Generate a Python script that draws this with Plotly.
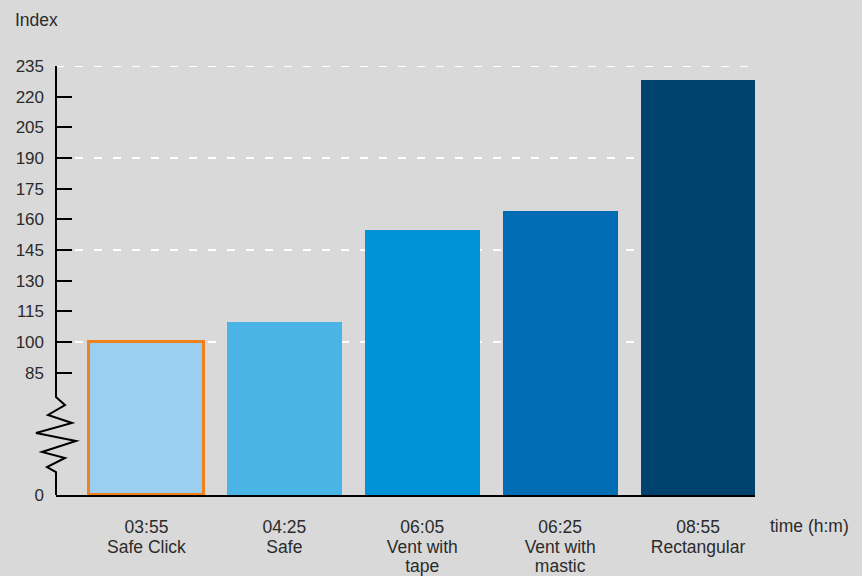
import plotly.graph_objects as go

# ---- data ----
times = ["03:55", "04:25", "06:05", "06:25", "08:55"]
names_line1 = ["Safe Click", "Safe", "Vent with", "Vent with", "Rectangular"]
names_line2 = ["", "", "tape", "mastic", ""]
values = [100, 110, 155, 164, 228]
bar_colors = ["#9BCFF1", "#4BB4E6", "#0092D7", "#006CB4", "#00426E"]
y_tick_values = [85, 100, 115, 130, 145, 160, 175, 190, 205, 220, 235]
grid_values = [100, 145, 190, 235]

# ---- broken axis: the real zero is drawn at display value Z ----
Z = 25.2
Y_MAX = 235

# plot area in pixels
W, H = 862, 576
L, R, T, B = 56, 107, 66, 81
PW, PH = W - L - R, H - T - B


def px(x):
    return (x - L) / PW


def py(y):
    return (H - B - y) / PH


font_color = "#2b2b2b"
font_family = "Liberation Sans, Arial, Helvetica, sans-serif"
clear = "rgba(0,0,0,0)"
X_RANGE = [-0.656, 4.413]
cats = list(range(len(values)))

fig = go.Figure()
fig.add_trace(go.Bar(
    x=cats,
    y=[v - Z for v in values],
    base=Z,
    width=0.834,
    marker=dict(
        color=bar_colors,
        line=dict(color=["#F0821E", clear, clear, clear, clear],
                  width=[3, 0, 0, 0, 0]),
    ),
    hoverinfo="skip",
))
# invisible helper traces so the extra label axes (name lines) are drawn
for ax in ["x2", "x3"]:
    fig.add_trace(go.Scatter(x=cats, y=values, mode="none", xaxis=ax, yaxis="y",
                             hoverinfo="skip", showlegend=False))

shapes = []
for g in grid_values:
    shapes.append(dict(type="line", xref="paper", yref="y", x0=0, x1=1, y0=g, y1=g,
                       line=dict(color="white", width=2, dash="8px,11px"), layer="below"))

# y axis line with zigzag break
pts = [(56, 66), (56, 397), (65, 405), (48, 415), (72, 423), (36, 433), (76, 441),
       (42, 452), (65, 458), (47, 467), (56, 472), (56, 495)]
path = "M " + " L ".join(f"{px(x):.5f},{py(y):.5f}" for x, y in pts)
shapes.append(dict(type="path", xref="paper", yref="paper", path=path,
                   line=dict(color="black", width=2), layer="above"))


def label_axis(texts, standoff, **extra):
    d = dict(
        range=X_RANGE,
        tickmode="array",
        tickvals=cats,
        ticktext=texts,
        ticks="",
        showgrid=False,
        zeroline=False,
        automargin=False,
        ticklabelstandoff=standoff,
        tickfont=dict(size=17.5, color=font_color),
        fixedrange=True,
    )
    d.update(extra)
    return d


fig.update_layout(
    width=W, height=H,
    margin=dict(l=L, r=R, t=T, b=B, pad=0, autoexpand=False),
    paper_bgcolor="#D9D9D9",
    plot_bgcolor="#D9D9D9",
    showlegend=False,
    bargap=0,
    font=dict(family=font_family, size=17, color=font_color),
    shapes=shapes,
    xaxis=label_axis(times, 15, showline=True, linecolor="black", linewidth=2),
    xaxis2=label_axis(names_line1, 39, overlaying="x", anchor="y", side="bottom",
                      showline=False),
    xaxis3=label_axis(names_line2, 58, overlaying="x", anchor="y", side="bottom",
                      showline=False),
    yaxis=dict(
        range=[Z, Y_MAX],
        tickmode="array",
        tickvals=[Z] + y_tick_values,
        ticktext=["0"] + [str(v) for v in y_tick_values],
        ticks="inside",
        ticklen=16,
        tickwidth=2,
        tickcolor="black",
        showgrid=False,
        zeroline=False,
        showline=False,
        automargin=False,
        ticklabelstandoff=11,
        tickfont=dict(size=17, color=font_color),
        fixedrange=True,
    ),
    annotations=[
        dict(text="Index", xref="paper", yref="paper", x=px(13), y=py(20),
             xanchor="left", yanchor="middle", showarrow=False,
             font=dict(size=17.5, color=font_color)),
        dict(text="time (h:m)", xref="paper", yref="paper", x=px(768), y=py(526),
             xanchor="left", yanchor="middle", showarrow=False,
             font=dict(size=17.5, color=font_color)),
    ],
)

fig.write_html(
    "out.html",
    config={"displayModeBar": False},
    post_script="document.body.style.margin='0px';document.body.style.overflow='hidden';"
                "document.body.style.background='#D9D9D9';",
)
